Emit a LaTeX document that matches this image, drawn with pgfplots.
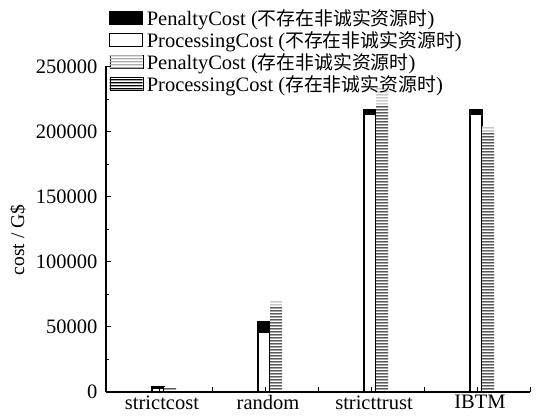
\documentclass[border=0pt]{standalone}
\usepackage{fontspec}
\setmainfont{Liberation Serif}
\newfontfamily\cjk{Noto Sans CJK SC}[Scale=0.92]
\usepackage{pgfplots}
\usepackage{pgfplotstable}
\pgfplotsset{compat=1.18}
\usetikzlibrary{patterns}
\newcommand\fs{\fontsize{20.5bp}{24bp}\selectfont}

\pgfdeclarepatternformonly{hl}{\pgfpointorigin}{\pgfqpoint{100bp}{3bp}}{\pgfqpoint{100bp}{3bp}}{%
  \pgfpathrectangle{\pgfqpoint{-1bp}{0.75bp}}{\pgfqpoint{102bp}{1.5bp}}%
  \pgfusepath{fill}%
}

\pgfplotstableread{
x penL procL penR procR
1 4000 2500 3800 3000
2 54000 45500 70000 66000
3 217000 213500 234000 220000
4 216800 213500 204000 200000
}\data

\pgfplotsset{
  mylegend/.style={legend image code/.code={\draw[##1] (0bp,-6.5bp) rectangle (33bp,6.5bp);}},
}

\begin{document}
\begin{tikzpicture}
\begin{axis}[
  at={(106bp,28bp)}, anchor=south west,
  scale only axis, width=424bp, height=325.5bp,
  xmin=0.5, xmax=4.5, ymin=0, ymax=250000,
  ybar, bar width=12bp,
  axis x line=bottom, axis y line=left,
  axis line style={-, line width=1.1bp},
  every tick/.style={black, line width=1bp},
  xtick={1,2,3,4}, xticklabels={strictcost,random,stricttrust,IBTM},
  extra x ticks={1.5,2.5,3.5,4.5}, extra x tick labels={},
  ytick={0,50000,...,250000}, minor y tick num=1,
  scaled y ticks=false,
  yticklabel style={/pgf/number format/fixed, /pgf/number format/1000 sep={}, xshift=-5bp},
  /pgf/number format/assume math mode=true,
  tick label style={font=\fs},
  xticklabel style={xshift=3bp},
  tick align=inside,
  major tick length=5bp, minor tick length=3bp,
  axis on top,
  ylabel={cost / G\$},
  ylabel style={font=\fontsize{19.5bp}{22bp}\selectfont, at={(axis description cs:-0.208,0.467)}, anchor=center},
  legend cell align=left,
  legend style={draw=none, fill=none, at={(0,1)}, anchor=north west, xshift=3bp, yshift=59bp,
    font=\fs, row sep=1.5bp, inner sep=0pt, nodes={inner sep=1.5bp},
    /tikz/every odd column/.append style={column sep=2bp}},
]
\addplot[mylegend, bar shift=-1bp, fill=black, draw=black, line width=1.1bp] table[x=x,y=penL]{\data};
\addlegendentry{PenaltyCost ({\cjk 不存在非诚实资源时})}
\addplot[mylegend, bar shift=-1bp, fill=white, draw=black, line width=1.1bp] table[x=x,y=procL]{\data};
\addlegendentry{ProcessingCost ({\cjk 不存在非诚实资源时})}
\addplot[mylegend, bar shift=11bp, draw=none, fill=white,
  postaction={pattern=hl, pattern color=gray!65}] table[x=x,y=penR]{\data};
\addlegendentry{PenaltyCost ({\cjk 存在非诚实资源时})}
\addplot[mylegend, bar shift=11bp, draw=none, fill=white,
  postaction={pattern=hl, pattern color=black}] table[x=x,y=procR]{\data};
\addlegendentry{ProcessingCost ({\cjk 存在非诚实资源时})}
\end{axis}
\pgfresetboundingbox
\path[use as bounding box] (0,0) rectangle (536bp,420bp);
\end{tikzpicture}
\end{document}
